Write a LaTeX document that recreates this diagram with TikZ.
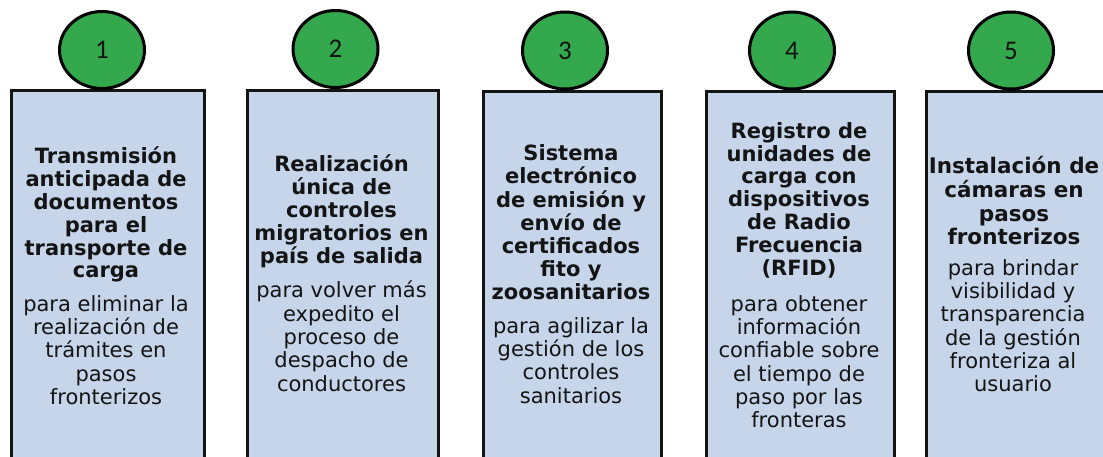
\documentclass[tikz,border=0pt]{standalone}
\usepackage{fontspec}
\setmainfont{DejaVu Sans}
\newfontfamily\numfont{Carlito}
\usetikzlibrary{positioning,shapes.geometric}
\definecolor{ink}{HTML}{141414}
\definecolor{panel}{HTML}{C6D5EA}
\definecolor{badgegreen}{HTML}{33A84C}

\begin{document}
\begin{tikzpicture}[
  x=1pt,y=-1pt,
  card/.style={draw=ink,line width=2.8pt,fill=panel,anchor=north west,inner sep=0pt,minimum height=380pt},
  badge/.style={ellipse,draw=black,line width=3pt,fill=badgegreen,minimum width=85pt,minimum height=77pt,inner sep=0pt,font=\numfont\fontsize{27}{30}\selectfont,text=ink},
  head/.style={anchor=north,align=center,inner sep=0pt,text=ink,font=\fontsize{21}{22.9}\selectfont\bfseries},
  body/.style={anchor=north,align=center,inner sep=0pt,text=ink,font=\fontsize{21}{23.3}\selectfont}
]
\useasboundingbox (0,0) rectangle (1103,457);
\clip (0,0) rectangle (1103,457);
\fill[white] (0,0) rectangle (1103,457);

% panels
\node[card,minimum width=193pt] (panel1) at (10,89) {};
\node[card,minimum width=191pt] (panel2) at (246,89) {};
\node[card,minimum width=178pt] (panel3) at (482,90) {};
\node[card,minimum width=188pt] (panel4) at (705,90) {};
\node[card,minimum width=195pt] (panel5) at (925,90) {};

% numbered badges
\node[badge] (step1) at (102,50) {1};
\node[badge] (step2) at (335.5,49) {2};
\node[badge] (step3) at (565,50.5) {3};
\node[badge] (step4) at (792,50.5) {4};
\node[badge] (step5) at (1011,50.5) {5};

% texts
\node[head] (title1) at (106,146.5) {Transmisión\\anticipada de\\documentos\\para el\\transporte de\\carga};
\node[body] (aim1) at (106,295) {para eliminar la\\realización de\\trámites en\\pasos\\fronterizos};

\node[head] (title2) at (341.5,155) {Realización\\única de\\controles\\migratorios en\\país de salida};
\node[body] (aim2) at (341.5,281) {para volver más\\expedito el\\proceso de\\despacho de\\conductores};

\node[head,font=\fontsize{21}{23.2}\selectfont\bfseries] (title3) at (571,144.5) {Sistema\\electrónico\\de emisión y\\envío de\\certificados\\fito y\\zoosanitarios};
\node[body] (aim3) at (571,317) {para agilizar la\\gestión de los\\controles\\sanitarios};

\node[head] (title4) at (799,122) {Registro de\\unidades de\\carga con\\dispositivos\\de Radio\\Frecuencia\\(RFID)};
\node[body] (aim4) at (799,295) {para obtener\\información\\confiable sobre\\el tiempo de\\paso por las\\fronteras};

\node[head,font=\fontsize{21.5}{23.7}\selectfont\bfseries] (title5) at (1014,156.5) {Instalación de\\cámaras en\\pasos\\fronterizos};
\node[body] (aim5) at (1013,259) {para brindar\\visibilidad y\\transparencia\\de la gestión\\fronteriza al\\usuario};
\end{tikzpicture}
\end{document}
